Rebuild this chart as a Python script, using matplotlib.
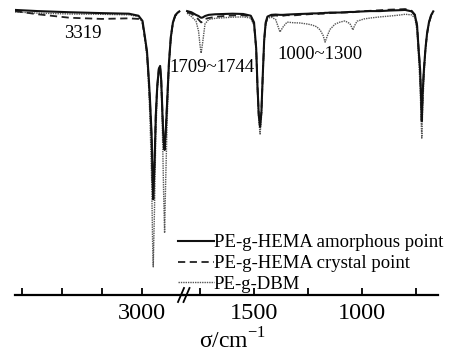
import numpy as np
import matplotlib
matplotlib.use('Agg')
import matplotlib.pyplot as plt
from matplotlib.lines import Line2D

plt.rcParams['font.family'] = ['Liberation Serif', 'DejaVu Serif']
plt.rcParams['mathtext.fontset'] = 'custom'
plt.rcParams['mathtext.rm'] = 'Liberation Serif'

# high wavenumber part (left of the break)
w_hi = [3792, 3650, 3450, 3250, 3080, 3020, 2995, 2980, 2967, 2955, 2948, 2938, 2932, 2928,
        2920, 2912, 2903, 2893, 2885, 2878, 2870, 2863, 2857, 2850, 2840, 2830, 2818, 2805,
        2790, 2775, 2765]
amor_hi = [98.3, 97.9, 97.5, 97.2, 97.0, 96.3, 94.5, 89, 84, 74, 67, 55, 40, 33,
           45, 62, 72, 78, 79, 74, 62, 53, 50, 56, 68, 80, 89, 94,
           96.5, 97.4, 97.8]
cryst_hi = [97.9, 96.8, 95.6, 95.2, 95.4, 95.2, 93.8, 88.5, 83.5, 73, 66, 54, 39, 34.5,
            46, 62, 72, 78, 79, 74, 62, 53, 50, 56, 68, 80, 89, 94,
            96.3, 97.2, 97.6]
dbm_hi = [97.6, 97.2, 96.9, 96.8, 96.6, 96.0, 94.0, 88, 82, 70, 60, 40, 18, 9.7,
          30, 55, 70, 77, 78, 72, 55, 35, 21.4, 40, 62, 78, 88, 93.5,
          96.2, 97.2, 97.6]

# low wavenumber part (right of the break)
w_lo = [1810, 1790, 1769, 1757, 1750, 1745, 1738, 1727, 1710, 1680, 1640, 1600, 1550, 1515,
        1500, 1490, 1484, 1478, 1472, 1466, 1460, 1453, 1446, 1438, 1420, 1400, 1380, 1365,
        1347, 1320, 1287, 1250, 1231, 1210, 1194, 1180, 1171, 1160, 1148, 1125, 1102, 1079,
        1056, 1048, 1042, 1035, 1023, 990, 963, 917, 870, 830, 800, 770, 755, 745,
        738, 731, 726, 723, 719, 713, 706, 699, 690, 680, 670]
amor_lo = [97.9, 97.5, 96.6, 96.2, 95.8, 95.6, 95.7, 96.2, 96.6, 96.8, 96.9, 97.0, 96.9, 96.3,
           94, 85, 72, 62, 58, 63, 75, 88, 94, 96, 96.6, 96.7, 96.6, 96.6,
           96.7, 96.8, 96.9, 97.0, 97.1, 97.1, 97.2, 97.2, 97.3, 97.3, 97.4, 97.4, 97.4, 97.5,
           97.6, 97.6, 97.6, 97.6, 97.7, 97.8, 97.9, 97.9, 98.1, 98.2, 98.3, 97.8, 96.5, 93,
           85, 78, 67, 60, 70, 78, 85, 90, 94, 96.5, 97.8]
cryst_lo = [97.5, 97.0, 95.8, 95.0, 94.4, 94.0, 94.3, 95.2, 95.5, 95.9, 96.2, 96.4, 96.5, 96.0,
            93.5, 85, 72, 62, 58, 63, 75, 88, 93.5, 95.6, 96.2, 96.4, 96.2, 96.3,
            96.5, 96.4, 96.6, 96.8, 96.9, 96.8, 97.0, 97.0, 97.1, 97.2, 97.2, 97.3, 97.4, 97.4,
            97.5, 97.6, 97.5, 97.6, 97.7, 97.9, 98.0, 98.2, 98.4, 98.5, 98.6, 98.0, 96.7, 93,
            85, 78, 67, 60, 70, 78, 85, 90, 94, 96.3, 97.6]
dbm_lo = [97.2, 96.0, 94.5, 91, 86, 83.4, 87, 93.5, 95, 95.4, 95.6, 95.8, 95.9, 95.5,
          93, 84, 70, 60, 55.5, 61, 74, 87, 93, 95.4, 95.8, 95.0, 90.7, 92.5,
          94.1, 93.9, 93.8, 93.4, 93.1, 92.5, 91.4, 89.5, 87.2, 89.5, 91.6, 93.4, 94.1, 94.5,
          93.6, 92.4, 91.4, 92.8, 94.4, 95.2, 95.5, 95.9, 96.2, 96.5, 96.8, 96.6, 95.5, 91,
          82, 72, 60, 54.1, 64, 75, 84, 89.5, 93.5, 96, 97.4]

labels = ['PE-g-HEMA amorphous point', 'PE-g-HEMA crystal point', 'PE-g-DBM']

fig = plt.figure(figsize=(4.5, 3.54), dpi=100)
ax1 = fig.add_axes([15/450, 59/354, 168/450, 290/354])
ax2 = fig.add_axes([183/450, 59/354, 255/450, 290/354])

for ax, w, a, c, d in [(ax1, w_hi, amor_hi, cryst_hi, dbm_hi), (ax2, w_lo, amor_lo, cryst_lo, dbm_lo)]:
    ax.plot(w, d, color='#555555', lw=1.0, linestyle=(0, (1, 0.7)), label=labels[2])
    ax.plot(w, c, color='#222222', lw=1.3, linestyle=(0, (4, 2.5)), label=labels[1])
    ax.plot(w, a, color='#111111', lw=1.5, label=labels[0])
    ax.set_ylim(0, 100)
    ax.set_yticks([])
    for s in ['left', 'right', 'top']:
        ax.spines[s].set_visible(False)
    ax.spines['bottom'].set_linewidth(1.6)
    ax.patch.set_visible(False)
    ax.tick_params(axis='x', direction='in', length=5, width=1.3, labelsize=17.5, pad=6)

ax1.set_xlim(3792, 2742)
ax2.set_xlim(1829, 648)
ax1.set_xticks([3750, 3500, 3250, 3000])
ax1.set_xticklabels(['', '', '', '3000'])
ax2.set_xticks([1750, 1500, 1250, 1000, 750])
ax2.set_xticklabels(['', '1500', '', '1000', ''])

ax1.text(3367, 90.3, '3319', ha='center', va='center', fontsize=13.5)
ax2.text(1694, 78.3, '1709~1744', ha='center', va='center', fontsize=13.5, clip_on=False)
ax2.text(1194, 83.1, '1000~1300', ha='center', va='center', fontsize=13.5)

# axis break mark
for x0 in [178, 183.5]:
    fig.add_artist(Line2D([x0/450, (x0+6)/450], [1-302/354, 1-288/354], color='k', lw=1.3))

h, l = ax2.get_legend_handles_labels()
fig.legend(h[::-1], l[::-1], loc='lower left', bbox_to_anchor=(178/450, 1-293/354),
           frameon=False, handlelength=1.9, handletextpad=0, labelspacing=0.2,
           borderpad=0, borderaxespad=0, fontsize=13.5)

fig.text(233/450, 1-341/354, r'σ/cm$^{\mathregular{-1}}$', ha='center', va='center', fontsize=17)

fig.savefig('out.png', dpi=100)
